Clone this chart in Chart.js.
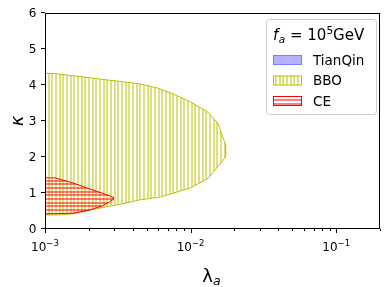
<!DOCTYPE html>
<html><head><meta charset="utf-8">
<script src="https://cdn.jsdelivr.net/npm/chart.js@4"></script>
<style>html,body{margin:0;padding:0;background:#fff}#wrap{width:387px;height:287px}</style>
</head><body><div id="wrap"><canvas id="c" width="387" height="287"></canvas></div>
<script>
// ---- data ----
const seriesNames = ['TianQin', 'BBO', 'CE'];
const tianqinX = [];
const tianqinY = [];
const bboX = [1e-3, 1.15e-3, 2.7e-3, 4.5e-3, 5.9e-3, 7.3e-3, 1.0e-2, 1.31e-2, 1.54e-2, 1.74e-2, 1.74e-2, 1.33e-2, 1.0e-2, 6.2e-3, 4.5e-3, 3.3e-3, 2.04e-3, 1.56e-3, 1.2e-3, 1e-3, 1e-3];
const bboY = [4.32, 4.32, 4.14, 4.03, 3.92, 3.78, 3.53, 3.25, 2.94, 2.33, 2.0, 1.42, 1.14, 0.89, 0.81, 0.69, 0.53, 0.42, 0.39, 0.39, 4.32];
const ceX = [1e-3, 1.17e-3, 1.56e-3, 2.04e-3, 2.5e-3, 2.95e-3, 2.95e-3, 2.5e-3, 2.04e-3, 1.56e-3, 1e-3, 1e-3];
const ceY = [1.42, 1.42, 1.28, 1.11, 0.99, 0.88, 0.82, 0.65, 0.53, 0.44, 0.42, 1.42];
const xMajorTicks = [1e-3, 1e-2, 1e-1];
const xTickBase = ['10', '10', '10'];
const xTickExp = ['\u22123', '\u22122', '\u22121'];
const yTickValues = [0, 1, 2, 3, 4, 5, 6];
const yTickLabels = ['0', '1', '2', '3', '4', '5', '6'];

const pts = (xs, ys) => xs.map((x, i) => ({x: x, y: ys[i]}));

function hatch(dir, color) {
  const c = document.createElement('canvas');
  c.width = 11; c.height = 11;
  const g = c.getContext('2d');
  g.fillStyle = color;
  [0, 4, 7].forEach(p => {
    if (dir === 'v') g.fillRect(p, 0, 2, 11); else g.fillRect(0, p, 11, 2);
  });
  return g.createPattern(c, 'repeat');
}
const bboHatch = hatch('v', 'rgba(191,191,0,0.5)');
const ceHatch = hatch('h', 'rgba(255,0,0,0.5)');

const xMinorTicks = [];
for (let d = -3; d <= -1; d++) for (let m = 2; m <= 9; m++) { const v = m * Math.pow(10, d); if (v <= 0.2 + 1e-12) xMinorTicks.push(v); }

const framePlugin = {
  id: 'frame',
  afterDraw(chart) {
    const ctx = chart.ctx, a = chart.chartArea;
    const xs = chart.scales.x, ys = chart.scales.y;
    ctx.save();
    ctx.strokeStyle = '#000'; ctx.lineWidth = 1;
    ctx.strokeRect(Math.round(a.left) + 0.5, Math.round(a.top) + 0.5, Math.round(a.right - a.left) - 1, Math.round(a.bottom - a.top) - 1);
    ctx.beginPath();
    xMajorTicks.forEach(v => { const p = Math.round(xs.getPixelForValue(v)) + 0.5; ctx.moveTo(p, a.bottom); ctx.lineTo(p, a.bottom + 4); });
    xMinorTicks.forEach(v => { const p = Math.round(xs.getPixelForValue(v)) + 0.5; ctx.moveTo(p, a.bottom); ctx.lineTo(p, a.bottom + 2); });
    yTickValues.forEach(v => { const p = Math.round(ys.getPixelForValue(v)) - 0.5; ctx.moveTo(a.left, p); ctx.lineTo(a.left - 4, p); });
    ctx.stroke();

    ctx.fillStyle = '#000'; ctx.textBaseline = 'alphabetic'; ctx.textAlign = 'left';
    // x tick labels with superscript exponents
    xMajorTicks.forEach((v, i) => {
      const p = xs.getPixelForValue(v);
      ctx.font = '12px "DejaVu Sans"'; const w1 = ctx.measureText(xTickBase[i]).width;
      ctx.font = '8.5px "DejaVu Sans"'; const w2 = ctx.measureText(xTickExp[i]).width;
      const x0 = p - (w1 + w2) / 2;
      ctx.font = '12px "DejaVu Sans"'; ctx.fillText(xTickBase[i], x0, a.bottom + 21.5);
      ctx.font = '8.5px "DejaVu Sans"'; ctx.fillText(xTickExp[i], x0 + w1, a.bottom + 17);
    });
    // y tick labels
    ctx.font = '12px "DejaVu Sans"'; ctx.textAlign = 'right';
    yTickValues.forEach((v, i) => {
      const p = ys.getPixelForValue(v);
      ctx.fillText(yTickLabels[i], a.left - 8.5, p + 4.3);
    });
    ctx.textAlign = 'left';
    // x title  λ_a
    ctx.font = '18px "DejaVu Sans"'; const wl = ctx.measureText('\u03BB').width;
    ctx.font = 'italic 12.5px "DejaVu Sans"'; const wa = ctx.measureText('a').width;
    const cx = (a.left + a.right) / 2 - (wl + wa) / 2 - 1;
    ctx.font = '18px "DejaVu Sans"'; ctx.fillText('\u03BB', cx, 282);
    ctx.font = 'italic 12.5px "DejaVu Sans"'; ctx.fillText('a', cx + wl, 285);
    // y title κ (rotated)
    ctx.save();
    ctx.translate(23, (a.top + a.bottom) / 2);
    ctx.rotate(-Math.PI / 2);
    ctx.font = 'italic 18px "DejaVu Sans"'; ctx.textAlign = 'center';
    ctx.fillText('\u03BA', 0, 0);
    ctx.restore();

    // legend
    const lx = 266.5, ly = 19.5, lw = 110, lh = 95;
    ctx.beginPath();
    ctx.roundRect(lx, ly, lw, lh, 3);
    ctx.fillStyle = 'rgba(255,255,255,0.8)'; ctx.fill();
    ctx.strokeStyle = '#cccccc'; ctx.stroke();

    ctx.fillStyle = '#000';
    let tx = 273;
    const base = 40;
    const big = '15px "DejaVu Sans"', small = '10.5px "DejaVu Sans"';
    ctx.font = 'italic ' + big; ctx.fillText('f', tx, base); tx += ctx.measureText('f').width + 0.5;
    ctx.font = 'italic ' + small; ctx.fillText('a', tx, base + 3); tx += ctx.measureText('a').width;
    ctx.font = big; ctx.fillText(' = 10', tx, base); tx += ctx.measureText(' = 10').width;
    ctx.font = small; ctx.fillText('5', tx, base - 6); tx += ctx.measureText('5').width;
    ctx.font = big; ctx.fillText('GeV', tx, base);

    const rows = [55, 75.5, 96];
    const fills = ['rgba(0,0,255,0.3)', bboHatch, ceHatch];
    const edges = ['rgba(0,0,255,0.3)', '#bfbf00', '#ff0000'];
    ctx.font = '13.5px "DejaVu Sans"';
    rows.forEach((y, i) => {
      ctx.fillStyle = fills[i];
      ctx.fillRect(273, y, 29, 10);
      ctx.strokeStyle = edges[i]; ctx.lineWidth = 1;
      ctx.strokeRect(273.5, y + 0.5, 28, 9);
      ctx.fillStyle = '#000';
      ctx.fillText(seriesNames[i], 313, y + 9.5);
    });
    ctx.restore();
  }
};

new Chart(document.getElementById('c'), {
  type: 'scatter',
  data: {
    datasets: [
      {label: seriesNames[0], data: pts(tianqinX, tianqinY), showLine: true, fill: 'shape', borderColor: 'rgba(0,0,255,0.3)', backgroundColor: 'rgba(0,0,255,0.3)', pointRadius: 0, order: 3},
      {label: seriesNames[1], data: pts(bboX, bboY), showLine: true, fill: 'shape', borderColor: '#bfbf00', borderWidth: 1, backgroundColor: bboHatch, pointRadius: 0, tension: 0, order: 2},
      {label: seriesNames[2], data: pts(ceX, ceY), showLine: true, fill: 'shape', borderColor: '#ff0000', borderWidth: 1, backgroundColor: ceHatch, pointRadius: 0, tension: 0, order: 1}
    ]
  },
  options: {
    responsive: false, animation: false, devicePixelRatio: 1,
    layout: {padding: {left: 0, right: 7, top: 13, bottom: 0}},
    plugins: {legend: {display: false}, tooltip: {enabled: false}},
    scales: {
      x: {
        type: 'logarithmic', min: 1e-3, max: 0.2,
        afterBuildTicks(s) { s.ticks = xMajorTicks.map(v => ({value: v, major: true})); },
        afterFit(s) { s.height = 58; s.paddingLeft = 0; s.paddingRight = 0; },
        grid: {display: false, drawTicks: false},
        border: {display: false},
        ticks: {display: false},
        title: {display: false}
      },
      y: {
        min: 0, max: 6,
        afterBuildTicks(s) { s.ticks = yTickValues.map(v => ({value: v})); },
        afterFit(s) { s.width = 45; s.paddingTop = 0; s.paddingBottom = 0; },
        grid: {display: false, drawTicks: false},
        border: {display: false},
        ticks: {display: false},
        title: {display: false}
      }
    }
  },
  plugins: [framePlugin]
});
</script>
</body></html>
